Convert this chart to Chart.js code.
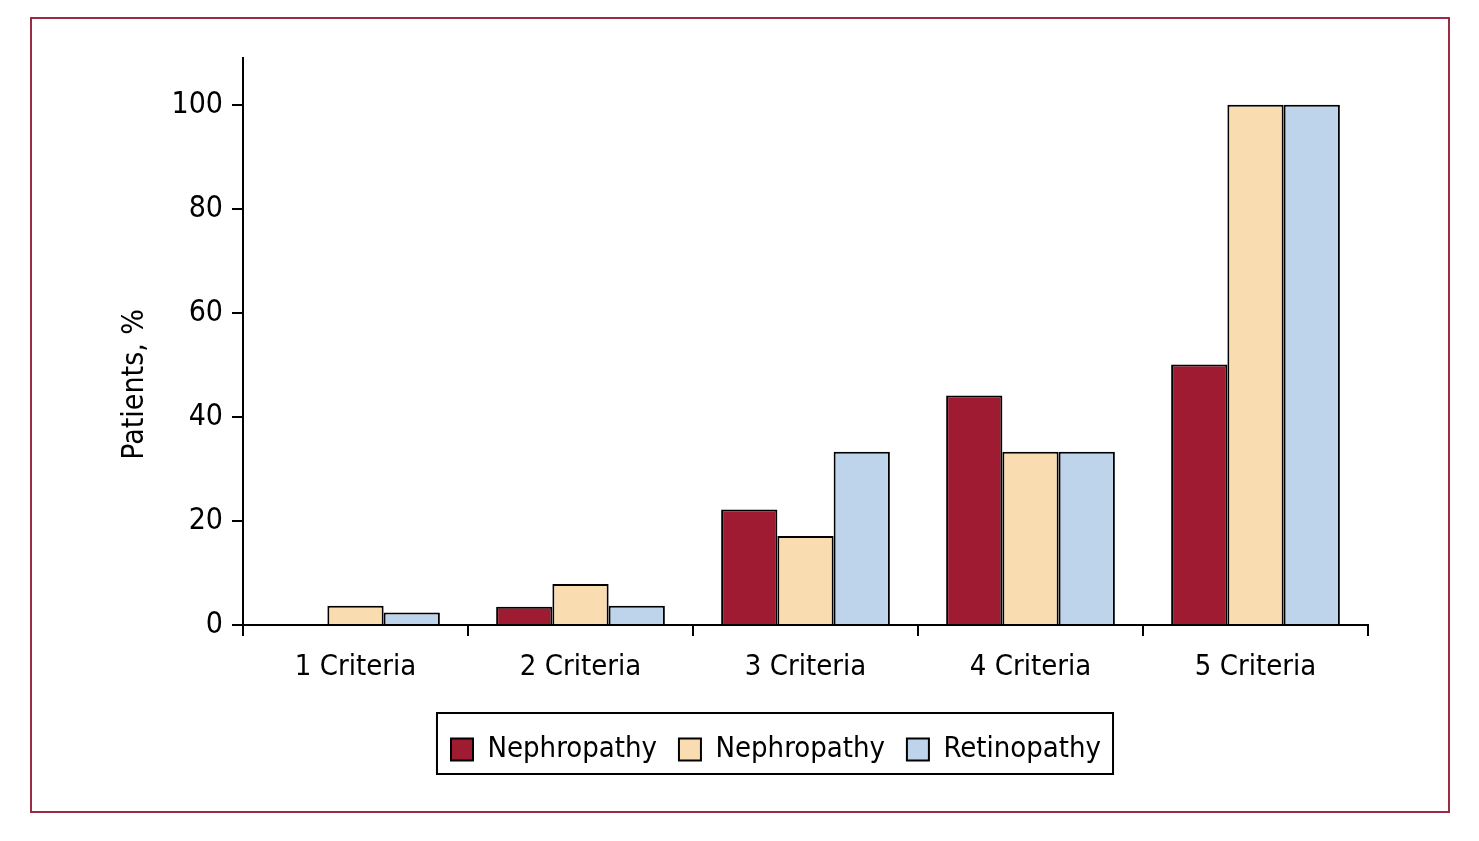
<!DOCTYPE html>
<html>
<head>
<meta charset="utf-8">
<script src="https://cdn.jsdelivr.net/npm/chart.js@4/dist/chart.umd.min.js"></script>
<style>
  html, body { margin: 0; padding: 0; background: #fff; }
  #wrap { position: relative; width: 1479px; height: 841px; }
  #frame { position: absolute; left: 30px; top: 17px; width: 1420px; height: 796px;
           border: 2px solid #9b2a45; box-sizing: border-box; pointer-events: none; }
  #c { position: absolute; left: 0; top: 0; }
</style>
</head>
<body>
<div id="wrap">
  <div id="frame"></div>
  <canvas id="c" width="1479" height="841"></canvas>
</div>
<script>
const categories = ['1 Criteria', '2 Criteria', '3 Criteria', '4 Criteria', '5 Criteria'];
const seriesNames = ['Nephropathy', 'Nephropathy', 'Retinopathy'];
const nephropathyA = [0, 3.5, 22.2, 44.1, 50.1];
const nephropathyB = [3.7, 7.9, 17.1, 33.3, 100];
const retinopathy = [2.4, 3.7, 33.3, 33.3, 100];
const yTicks = [0, 20, 40, 60, 80, 100];
const yMax = 109;

const FONT = "'Liberation Sans Narrow', 'DejaVu Sans Condensed', 'Liberation Sans', sans-serif";
Chart.defaults.font.family = FONT;
Chart.defaults.color = '#000';

const LEGEND_CENTER_X = 775;

const legendBorder = {
  id: 'legendBorder',
  afterUpdate(chart) {
    const lg = chart.legend;
    if (!lg || !lg.legendHitBoxes || !lg.legendHitBoxes.length) return;
    let l = Infinity, r = -Infinity;
    lg.legendHitBoxes.forEach(h => { l = Math.min(l, h.left); r = Math.max(r, h.left + h.width); });
    const dx = LEGEND_CENTER_X - ((l - 14) + (r + 12)) / 2;
    lg.left += dx; lg.right += dx;
    lg.adjustHitBoxes();
  },
  afterDraw(chart) {
    const lg = chart.legend;
    if (!lg || !lg.legendHitBoxes || !lg.legendHitBoxes.length) return;
    let l = Infinity, r = -Infinity;
    lg.legendHitBoxes.forEach(h => { l = Math.min(l, h.left); r = Math.max(r, h.left + h.width); });
    const ctx = chart.ctx;
    ctx.save();
    ctx.strokeStyle = '#000';
    ctx.lineWidth = 2;
    ctx.strokeRect(l - 14, lg.top, (r - l) + 26, lg.bottom - lg.top);
    ctx.restore();
  }
};

new Chart(document.getElementById('c'), {
  type: 'bar',
  data: {
    labels: categories,
    datasets: [
      { label: seriesNames[0], data: nephropathyA, backgroundColor: '#9e1b32' },
      { label: seriesNames[1], data: nephropathyB, backgroundColor: '#f9ddb1' },
      { label: seriesNames[2], data: retinopathy, backgroundColor: '#bdd4ea' }
    ]
  },
  options: {
    responsive: false,
    animation: false,
    devicePixelRatio: 1,
    datasets: {
      bar: { borderColor: '#000', borderWidth: 2, categoryPercentage: 0.75, barPercentage: 1 }
    },
    layout: { padding: { left: 71, right: 111, top: 58, bottom: 67 } },
    plugins: {
      tooltip: { enabled: false },
      legend: {
        position: 'bottom',
        labels: {
          font: { size: 29 },
          boxWidth: 22, boxHeight: 22,
          padding: 22,
          color: '#000',
          generateLabels(chart) {
            return chart.data.datasets.map((ds, i) => ({
              text: ds.label, fillStyle: ds.backgroundColor, strokeStyle: '#000',
              lineWidth: 2, hidden: false, datasetIndex: i
            }));
          }
        }
      }
    },
    scales: {
      x: {
        grid: { display: true, drawOnChartArea: false, drawTicks: true, tickLength: 11, color: '#000', lineWidth: 2, offset: true },
        border: { display: true, color: '#000', width: 2 },
        ticks: { font: { size: 29 }, padding: 14, color: '#000' },
        afterFit(s) { s.height = 88; }
      },
      y: {
        min: 0, max: yMax,
        grid: { display: true, drawOnChartArea: false, drawTicks: true, tickLength: 11, color: '#000', lineWidth: 2 },
        border: { display: true, color: '#000', width: 2 },
        ticks: { font: { size: 30 }, padding: 9, color: '#000', stepSize: 20 },
        afterBuildTicks(s) { s.ticks = yTicks.map(v => ({ value: v })); },
        title: { display: true, text: 'Patients, %\u00a0\u00a0\u00a0\u00a0\u00a0\u00a0\u00a0\u00a0\u00a0\u00a0', font: { size: 30 }, padding: { top: 46, bottom: 0 }, color: '#000' },
        afterFit(s) { s.width = 172; }
      }
    }
  },
  plugins: [legendBorder]
});
</script>
</body>
</html>
